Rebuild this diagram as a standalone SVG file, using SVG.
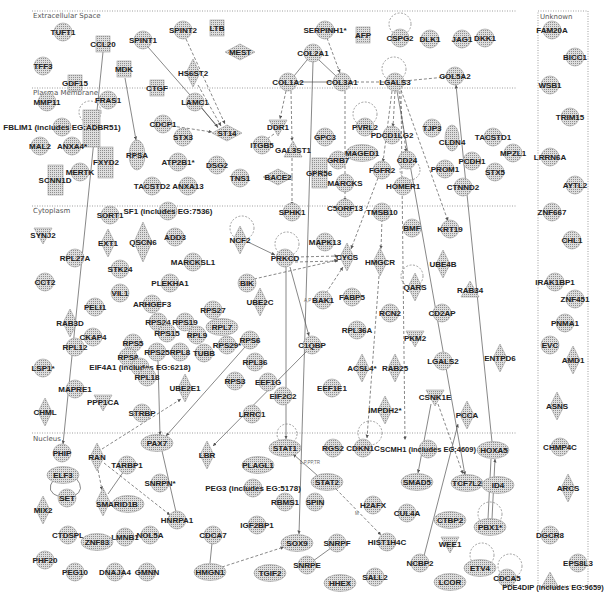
<svg xmlns="http://www.w3.org/2000/svg" xmlns:xlink="http://www.w3.org/1999/xlink" width="608" height="592" viewBox="0 0 608 592">
<style>
.n{fill:url(#st);stroke:#9a9a9a;stroke-width:0.6}
.l{font-family:"Liberation Sans",Arial,sans-serif;font-weight:bold;font-size:8px;fill:#222;text-anchor:middle}
.s{font-size:7.5px}
.e{stroke:#555;stroke-width:0.7;fill:none}
.d{stroke:#555;stroke-width:0.7;fill:none;stroke-dasharray:3 2}
.lp{stroke:#666;stroke-width:0.6;fill:none;stroke-dasharray:2 1.5}
.cm{stroke:#777;stroke-width:0.7;fill:none;stroke-dasharray:1 1.5}
.ct{font-family:"DejaVu Sans",sans-serif;font-size:7px;fill:#555}
.el{font-family:"Liberation Sans",sans-serif;font-size:4.5px;fill:#666}
</style>
<defs>
<pattern id="st" width="2" height="2" patternUnits="userSpaceOnUse"><rect width="2" height="2" fill="#dedede"/><rect width="1" height="1" fill="#8e8e8e"/></pattern>
<marker id="a" viewBox="0 0 6 6" refX="6" refY="3" markerWidth="5" markerHeight="5" orient="auto-start-reverse"><path d="M0,0L6,3L0,6Z" fill="#555"/></marker>
<circle id="C" r="9" class="n"/>
<ellipse id="E" rx="16" ry="8.5" class="n"/>
<path id="D" d="M0,-14L7,0L0,14L-7,0Z" class="n"/>
<path id="H" d="M-15,0L0,-8L15,0L0,8Z" class="n"/>
<rect id="S" x="-7" y="-8" width="14" height="16" class="n"/>
<path id="V" d="M-9,-7H9L0,9Z" class="n"/>
<path id="T" d="M0,-9L9,7H-9Z" class="n"/>
</defs>
<rect width="608" height="592" fill="#fff"/>
<g id="compartments">
<line class="cm" x1="32" y1="11" x2="516" y2="11"/>
<line class="cm" x1="32" y1="88" x2="516" y2="88"/>
<line class="cm" x1="32" y1="206" x2="516" y2="206"/>
<line class="cm" x1="32" y1="433" x2="516" y2="433"/>
<rect class="cm" x="538" y="11" width="50" height="575"/>
<text class="ct" x="33" y="18">Extracellular Space</text>
<text class="ct" x="33" y="95">Plasma Membrane</text>
<text class="ct" x="33" y="213">Cytoplasm</text>
<text class="ct" x="33" y="441">Nucleus</text>
<text class="ct" x="540" y="19">Unknown</text>
</g>
<g id="connectors">
<line class="e" x1="103" y1="52" x2="63" y2="444" marker-end="url(#a)"/>
<line class="e" x1="125" y1="78" x2="136" y2="140" marker-end="url(#a)"/>
<line class="e" x1="148" y1="47" x2="218" y2="127" marker-end="url(#a)"/>
<line class="d" x1="186" y1="39" x2="225" y2="124" marker-end="url(#a)"/>
<line class="d" x1="198" y1="85" x2="221" y2="126" marker-end="url(#a)"/>
<line class="e" x1="202" y1="108" x2="218" y2="128"/>
<line class="d" x1="172" y1="126" x2="212" y2="132" marker-end="url(#a)"/>
<line class="e" x1="307" y1="60" x2="294" y2="76"/>
<line class="e" x1="319" y1="60" x2="336" y2="76"/>
<line class="e" x1="297" y1="82" x2="333" y2="82"/>
<line class="d" x1="351" y1="82" x2="386" y2="82"/>
<line class="d" x1="404" y1="81" x2="446" y2="77" marker-end="url(#a)"/>
<line class="d" x1="327" y1="38" x2="340" y2="73" marker-end="url(#a)"/>
<line class="e" x1="313" y1="62" x2="299" y2="534" marker-end="url(#a)"/>
<line class="d" x1="286" y1="91" x2="280" y2="119" marker-end="url(#a)"/>
<line class="d" x1="274" y1="134" x2="267" y2="139"/>
<line class="d" x1="291" y1="91" x2="292" y2="141" marker-end="url(#a)"/>
<line class="d" x1="292" y1="158" x2="292" y2="205" marker-end="url(#a)"/>
<line class="d" x1="345" y1="91" x2="345" y2="201" marker-end="url(#a)"/>
<line class="d" x1="392" y1="91" x2="383" y2="162" marker-end="url(#a)"/>
<line class="d" x1="395" y1="91" x2="393" y2="127" marker-end="url(#a)"/>
<line class="d" x1="399" y1="91" x2="406" y2="152" marker-end="url(#a)"/>
<line class="d" x1="401" y1="90" x2="448" y2="221" marker-end="url(#a)"/>
<line class="e" x1="397" y1="91" x2="465" y2="475" marker-end="url(#a)"/>
<line class="d" x1="401" y1="91" x2="405" y2="440" marker-end="url(#a)"/>
<line class="e" x1="456" y1="85" x2="492" y2="442" marker-start="url(#a)"/>
<line class="d" x1="378" y1="178" x2="351" y2="249" marker-end="url(#a)"/>
<line class="e" x1="248" y1="242" x2="275" y2="255" marker-end="url(#a)"/>
<line class="d" x1="296" y1="257" x2="338" y2="256" marker-end="url(#a)"/>
<line class="d" x1="295" y1="262" x2="338" y2="261" marker-end="url(#a)"/>
<line class="d" x1="254" y1="279" x2="338" y2="260" marker-end="url(#a)"/>
<line class="d" x1="382" y1="219" x2="381" y2="249" marker-end="url(#a)"/>
<line class="d" x1="379" y1="276" x2="367" y2="438" marker-end="url(#a)"/>
<line class="d" x1="326" y1="293" x2="343" y2="267" marker-end="url(#a)"/>
<line class="e" x1="286" y1="267" x2="286" y2="439" marker-end="url(#a)"/>
<line class="e" x1="290" y1="267" x2="309" y2="336" marker-end="url(#a)"/>
<line class="e" x1="306" y1="352" x2="213" y2="446" marker-end="url(#a)"/>
<line class="e" x1="245" y1="347" x2="166" y2="436" marker-end="url(#a)"/>
<line class="e" x1="158" y1="361" x2="160" y2="435" marker-end="url(#a)"/>
<line class="d" x1="102" y1="449" x2="181" y2="399" marker-end="url(#a)"/>
<line class="d" x1="98" y1="470" x2="102" y2="490" marker-end="url(#a)"/>
<line class="d" x1="104" y1="463" x2="170" y2="515" marker-end="url(#a)"/>
<line class="e" x1="162" y1="451" x2="176" y2="512"/>
<line class="e" x1="124" y1="471" x2="108" y2="494"/>
<path class="e" d="M54,479 Q44,492 60,497"/>
<path class="e" d="M76,478 Q86,490 74,496"/>
<line class="e" x1="318" y1="476" x2="293" y2="454" marker-end="url(#a)"/>
<line class="d" x1="336" y1="489" x2="381" y2="535" marker-end="url(#a)"/>
<line class="d" x1="222" y1="567" x2="284" y2="547" marker-end="url(#a)"/>
<line class="e" x1="212" y1="543" x2="210" y2="563"/>
<line class="e" x1="313" y1="561" x2="331" y2="548"/>
<line class="e" x1="431" y1="404" x2="418" y2="473" marker-end="url(#a)"/>
<line class="d" x1="438" y1="404" x2="463" y2="474" marker-end="url(#a)"/>
<line class="e" x1="488" y1="519" x2="491" y2="459"/>
<line class="e" x1="492" y1="519" x2="495" y2="459" marker-end="url(#a)"/>
<line class="e" x1="424" y1="556" x2="458" y2="424" marker-end="url(#a)"/>
<circle class="lp" cx="90" cy="112" r="11"/>
<circle class="lp" cx="400" cy="24" r="11"/>
<circle class="lp" cx="394" cy="69" r="12"/>
<circle class="lp" cx="365" cy="114" r="12"/>
<circle class="lp" cx="410" cy="170" r="10"/>
<circle class="lp" cx="242" cy="228" r="12"/>
<circle class="lp" cx="287" cy="244" r="12"/>
<circle class="lp" cx="412" cy="276" r="11"/>
<circle class="lp" cx="287" cy="434" r="10"/>
<circle class="lp" cx="370" cy="433" r="12"/>
<circle class="lp" cx="490" cy="514" r="12"/>
<circle class="lp" cx="482" cy="555" r="12"/>
<circle class="lp" cx="510" cy="566" r="12"/>
<text class="el" x="304" y="302">A,P</text>
<text class="el" x="300" y="464">L,P,PP,TR</text>
<text class="el" x="355" y="515">M</text>
</g>
<g id="nodes">
<g id="n-TUFT1"><use href="#C" x="63" y="32"/><text class="l" x="63" y="35">TUFT1</text></g>
<g id="n-CCL20"><use href="#S" x="103" y="44"/><text class="l" x="103" y="47">CCL20</text></g>
<g id="n-SPINT1"><use href="#C" x="143" y="40"/><text class="l" x="143" y="43">SPINT1</text></g>
<g id="n-SPINT2"><use href="#C" x="183" y="30"/><text class="l" x="183" y="33">SPINT2</text></g>
<g id="n-LTB"><use href="#S" x="217" y="28"/><text class="l" x="217" y="31">LTB</text></g>
<g id="n-MEST"><use href="#H" x="240" y="52"/><text class="l" x="240" y="55">MEST</text></g>
<g id="n-SERPINH1"><use href="#C" x="325" y="30"/><text class="l" x="325" y="33">SERPINH1*</text></g>
<g id="n-AFP"><use href="#S" x="363" y="35"/><text class="l" x="363" y="38">AFP</text></g>
<g id="n-COL2A1"><use href="#C" x="313" y="53"/><text class="l" x="313" y="56">COL2A1</text></g>
<g id="n-CSPG2"><use href="#C" x="400" y="38"/><text class="l" x="400" y="41">CSPG2</text></g>
<g id="n-DLK1"><use href="#C" x="430" y="39"/><text class="l" x="430" y="42">DLK1</text></g>
<g id="n-JAG1"><use href="#C" x="462" y="39"/><text class="l" x="462" y="42">JAG1</text></g>
<g id="n-DKK1"><use href="#C" x="485" y="38"/><text class="l" x="485" y="41">DKK1</text></g>
<g id="n-TFF3"><use href="#C" x="43" y="66"/><text class="l" x="43" y="69">TFF3</text></g>
<g id="n-MDK"><use href="#S" x="124" y="69"/><text class="l" x="124" y="72">MDK</text></g>
<g id="n-HS6ST2"><use href="#D" x="193" y="73"/><text class="l" x="193" y="76">HS6ST2</text></g>
<g id="n-GDF15"><use href="#S" x="75" y="83"/><text class="l" x="75" y="86">GDF15</text></g>
<g id="n-COL1A2"><use href="#C" x="288" y="82"/><text class="l" x="288" y="85">COL1A2</text></g>
<g id="n-COL3A1"><use href="#C" x="342" y="82"/><text class="l" x="342" y="85">COL3A1</text></g>
<g id="n-LGALS3"><use href="#C" x="395" y="82"/><text class="l" x="395" y="85">LGALS3</text></g>
<g id="n-COL5A2"><use href="#C" x="455" y="76"/><text class="l" x="455" y="79">COL5A2</text></g>
<g id="n-CTGF"><use href="#S" x="157" y="88"/><text class="l" x="157" y="91">CTGF</text></g>
<g id="n-MMP11"><use href="#C" x="47" y="102"/><text class="l" x="47" y="105">MMP11</text></g>
<g id="n-FRAS1"><use href="#C" x="108" y="100"/><text class="l" x="108" y="103">FRAS1</text></g>
<g id="n-LAMC1"><use href="#C" x="195" y="102"/><text class="l" x="195" y="105">LAMC1</text></g>
<g id="n-rect1"><rect class="n" x="83" y="110" width="17" height="37"/></g>
<g id="n-FBLIM1"><use href="#C" x="62" y="127"/><text class="l" x="62" y="130">FBLIM1 (includes EG:ADBR51)</text></g>
<g id="n-CDCP1"><use href="#C" x="163" y="124"/><text class="l" x="163" y="127">CDCP1</text></g>
<g id="n-STX3"><use href="#C" x="183" y="137"/><text class="l" x="183" y="140">STX3</text></g>
<g id="n-ST14"><use href="#H" x="227" y="133"/><text class="l" x="227" y="136">ST14</text></g>
<g id="n-DDR1"><use href="#V" x="278" y="127"/><text class="l" x="278" y="130">DDR1</text></g>
<g id="n-GPC3"><use href="#C" x="325" y="137"/><text class="l" x="325" y="140">GPC3</text></g>
<g id="n-PVRL2"><use href="#C" x="365" y="127"/><text class="l" x="365" y="130">PVRL2</text></g>
<g id="n-PDCD1LG2"><use href="#C" x="392" y="135"/><text class="l" x="392" y="138">PDCD1LG2</text></g>
<g id="n-TJP3"><use href="#C" x="432" y="128"/><text class="l" x="432" y="131">TJP3</text></g>
<g id="n-CLDN4"><ellipse class="n" cx="452" cy="138" rx="7" ry="13"/><text class="l" x="452" y="145">CLDN4</text></g>
<g id="n-TACSTD1"><use href="#C" x="493" y="137"/><text class="l" x="493" y="140">TACSTD1</text></g>
<g id="n-MAL2"><use href="#C" x="40" y="146"/><text class="l" x="40" y="149">MAL2</text></g>
<g id="n-ANXA4"><use href="#C" x="72" y="146"/><text class="l" x="72" y="149">ANXA4*</text></g>
<g id="n-ITGB5"><use href="#C" x="262" y="145"/><text class="l" x="262" y="148">ITGB5</text></g>
<g id="n-GAL3ST1"><use href="#T" x="293" y="150"/><text class="l" x="293" y="153">GAL3ST1</text></g>
<g id="n-MAGED1"><use href="#E" x="362" y="153"/><text class="l" x="362" y="156">MAGED1</text></g>
<g id="n-MPZL1"><use href="#C" x="513" y="153"/><text class="l" x="513" y="156">MPZL1</text></g>
<g id="n-RPSA"><ellipse class="n" cx="137" cy="155" rx="8" ry="15"/><text class="l" x="137" y="158">RPSA</text></g>
<g id="n-FXYD2"><rect class="n" x="98" y="147" width="15" height="31"/><text class="l" x="106" y="165">FXYD2</text></g>
<g id="n-ATP2B1"><use href="#C" x="178" y="162"/><text class="l" x="178" y="165">ATP2B1*</text></g>
<g id="n-GRB7"><use href="#C" x="338" y="160"/><text class="l" x="338" y="163">GRB7</text></g>
<g id="n-PCDH1"><use href="#C" x="472" y="161"/><text class="l" x="472" y="164">PCDH1</text></g>
<g id="n-CD24"><use href="#C" x="407" y="160"/><text class="l" x="407" y="163">CD24</text></g>
<g id="n-DSG2"><use href="#C" x="217" y="165"/><text class="l" x="217" y="168">DSG2</text></g>
<g id="n-PROM1"><use href="#C" x="445" y="169"/><text class="l" x="445" y="172">PROM1</text></g>
<g id="n-FGFR2"><use href="#C" x="382" y="170"/><text class="l" x="382" y="173">FGFR2</text></g>
<g id="n-MERTK"><use href="#C" x="80" y="172"/><text class="l" x="80" y="175">MERTK</text></g>
<g id="n-GPR56"><rect class="n" x="312" y="158" width="15" height="30"/><text class="l" x="319" y="176">GPR56</text></g>
<g id="n-STX5"><use href="#C" x="495" y="172"/><text class="l" x="495" y="175">STX5</text></g>
<g id="n-BACE2"><use href="#H" x="278" y="177"/><text class="l" x="278" y="180">BACE2</text></g>
<g id="n-TNS1"><use href="#C" x="240" y="178"/><text class="l" x="240" y="181">TNS1</text></g>
<g id="n-SCNN1D"><rect class="n" x="48" y="165" width="15" height="30"/><text class="l" x="55" y="183">SCNN1D</text></g>
<g id="n-MARCKS"><use href="#C" x="345" y="183"/><text class="l" x="345" y="186">MARCKS</text></g>
<g id="n-HOMER1"><use href="#C" x="403" y="186"/><text class="l" x="403" y="189">HOMER1</text></g>
<g id="n-CTNND2"><use href="#C" x="463" y="187"/><text class="l" x="463" y="190">CTNND2</text></g>
<g id="n-TACSTD2"><use href="#C" x="152" y="186"/><text class="l" x="152" y="189">TACSTD2</text></g>
<g id="n-ANXA13"><use href="#C" x="188" y="186"/><text class="l" x="188" y="189">ANXA13</text></g>
<g id="n-SORT1"><use href="#C" x="110" y="215"/><text class="l" x="110" y="218">SORT1</text></g>
<g id="n-SF1"><use href="#C" x="168" y="211"/><text class="l" x="168" y="214">SF1 (includes EG:7536)</text></g>
<g id="n-SPHK1"><use href="#C" x="292" y="212"/><text class="l" x="292" y="215">SPHK1</text></g>
<g id="n-C5ORF13"><use href="#C" x="345" y="208"/><text class="l" x="345" y="211">C5ORF13</text></g>
<g id="n-TMSB10"><use href="#C" x="382" y="212"/><text class="l" x="382" y="215">TMSB10</text></g>
<g id="n-BMF"><use href="#C" x="412" y="228"/><text class="l" x="412" y="231">BMF</text></g>
<g id="n-KRT19"><use href="#C" x="450" y="229"/><text class="l" x="450" y="232">KRT19</text></g>
<g id="n-SYNJ2"><use href="#V" x="43" y="235"/><text class="l" x="43" y="238">SYNJ2</text></g>
<g id="n-ADD3"><use href="#C" x="175" y="237"/><text class="l" x="175" y="240">ADD3</text></g>
<g id="n-NCF2"><use href="#D" x="240" y="240"/><text class="l" x="240" y="243">NCF2</text></g>
<g id="n-MAPK13"><use href="#C" x="325" y="242"/><text class="l" x="325" y="245">MAPK13</text></g>
<g id="n-EXT1"><use href="#D" x="108" y="243"/><text class="l" x="108" y="246">EXT1</text></g>
<g id="n-QSCN6"><path class="n" d="M143,222L152,242L143,262L134,242Z"/><text class="l" x="143" y="245">QSCN6</text></g>
<g id="n-PRKCD"><use href="#C" x="285" y="258"/><text class="l" x="285" y="261">PRKCD</text></g>
<g id="n-CYCS"><use href="#D" x="347" y="257"/><text class="l" x="347" y="260">CYCS</text></g>
<g id="n-RPL27A"><use href="#C" x="75" y="258"/><text class="l" x="75" y="261">RPL27A</text></g>
<g id="n-MARCKSL1"><use href="#C" x="193" y="262"/><text class="l" x="193" y="265">MARCKSL1</text></g>
<g id="n-HMGCR"><use href="#D" x="380" y="262"/><text class="l" x="380" y="265">HMGCR</text></g>
<g id="n-UBE4B"><use href="#D" x="443" y="264"/><text class="l" x="443" y="267">UBE4B</text></g>
<g id="n-STK24"><use href="#C" x="120" y="269"/><text class="l" x="120" y="272">STK24</text></g>
<g id="n-CCT2"><use href="#C" x="45" y="282"/><text class="l" x="45" y="285">CCT2</text></g>
<g id="n-PLEKHA1"><use href="#C" x="170" y="283"/><text class="l" x="170" y="286">PLEKHA1</text></g>
<g id="n-BIK"><use href="#C" x="247" y="283"/><text class="l" x="247" y="286">BIK</text></g>
<g id="n-QARS"><use href="#D" x="415" y="287"/><text class="l" x="415" y="290">QARS</text></g>
<g id="n-RAB34"><use href="#T" x="470" y="290"/><text class="l" x="470" y="293">RAB34</text></g>
<g id="n-VIL1"><use href="#C" x="120" y="293"/><text class="l" x="120" y="296">VIL1</text></g>
<g id="n-FABP5"><use href="#C" x="352" y="297"/><text class="l" x="352" y="300">FABP5</text></g>
<g id="n-BAK1"><use href="#C" x="323" y="300"/><text class="l" x="323" y="303">BAK1</text></g>
<g id="n-UBE2C"><use href="#D" x="260" y="302"/><text class="l" x="260" y="305">UBE2C</text></g>
<g id="n-ARHGEF3"><use href="#C" x="152" y="304"/><text class="l" x="152" y="307">ARHGEF3</text></g>
<g id="n-PELI1"><use href="#C" x="95" y="307"/><text class="l" x="95" y="310">PELI1</text></g>
<g id="n-RPS27"><use href="#C" x="213" y="310"/><text class="l" x="213" y="313">RPS27</text></g>
<g id="n-RCN2"><use href="#C" x="390" y="313"/><text class="l" x="390" y="316">RCN2</text></g>
<g id="n-CD2AP"><use href="#C" x="442" y="313"/><text class="l" x="442" y="316">CD2AP</text></g>
<g id="n-RAB3D"><use href="#D" x="70" y="323"/><text class="l" x="70" y="326">RAB3D</text></g>
<g id="n-RPS24"><use href="#C" x="158" y="322"/><text class="l" x="158" y="325">RPS24</text></g>
<g id="n-RPS19"><use href="#C" x="185" y="322"/><text class="l" x="185" y="325">RPS19</text></g>
<g id="n-RPL7"><use href="#E" x="222" y="327"/><text class="l" x="222" y="330">RPL7</text></g>
<g id="n-RPL36A"><use href="#C" x="357" y="330"/><text class="l" x="357" y="333">RPL36A</text></g>
<g id="n-RPS15"><use href="#C" x="167" y="333"/><text class="l" x="167" y="336">RPS15</text></g>
<g id="n-RPL9"><use href="#C" x="197" y="335"/><text class="l" x="197" y="338">RPL9</text></g>
<g id="n-CKAP4"><use href="#C" x="93" y="337"/><text class="l" x="93" y="340">CKAP4</text></g>
<g id="n-PKM2"><use href="#V" x="415" y="338"/><text class="l" x="415" y="341">PKM2</text></g>
<g id="n-RPS6"><use href="#C" x="250" y="340"/><text class="l" x="250" y="343">RPS6</text></g>
<g id="n-RPS5"><use href="#C" x="133" y="343"/><text class="l" x="133" y="346">RPS5</text></g>
<g id="n-RPS29"><use href="#C" x="227" y="345"/><text class="l" x="227" y="348">RPS29*</text></g>
<g id="n-C1QBP"><use href="#C" x="312" y="345"/><text class="l" x="312" y="348">C1QBP</text></g>
<g id="n-RPL12"><use href="#C" x="75" y="347"/><text class="l" x="75" y="350">RPL12</text></g>
<g id="n-RPS25"><use href="#C" x="157" y="352"/><text class="l" x="157" y="355">RPS25</text></g>
<g id="n-RPL8"><use href="#C" x="180" y="352"/><text class="l" x="180" y="355">RPL8</text></g>
<g id="n-TUBB"><use href="#C" x="204" y="353"/><text class="l" x="204" y="356">TUBB</text></g>
<g id="n-RPS8"><use href="#C" x="128" y="357"/><text class="l" x="128" y="360">RPS8</text></g>
<g id="n-LGALS2"><use href="#C" x="443" y="361"/><text class="l" x="443" y="364">LGALS2</text></g>
<g id="n-RPL36"><use href="#C" x="255" y="362"/><text class="l" x="255" y="365">RPL36</text></g>
<g id="n-ENTPD6"><use href="#D" x="500" y="358"/><text class="l" x="500" y="361">ENTPD6</text></g>
<g id="n-LSP1"><use href="#C" x="43" y="368"/><text class="l" x="43" y="371">LSP1*</text></g>
<g id="n-RPS17"><use href="#C" x="140" y="367"/><text class="l" x="140" y="370">EIF4A1 (includes EG:6218)</text></g>
<g id="n-ACSL4"><use href="#D" x="362" y="368"/><text class="l" x="362" y="371">ACSL4*</text></g>
<g id="n-RAB25"><use href="#D" x="395" y="368"/><text class="l" x="395" y="371">RAB25</text></g>
<g id="n-RPL18"><use href="#C" x="147" y="377"/><text class="l" x="147" y="380">RPL18</text></g>
<g id="n-RPS3"><use href="#C" x="235" y="381"/><text class="l" x="235" y="384">RPS3</text></g>
<g id="n-EEF1G"><use href="#C" x="268" y="382"/><text class="l" x="268" y="385">EEF1G</text></g>
<g id="n-UBE2E1"><use href="#D" x="185" y="388"/><text class="l" x="185" y="391">UBE2E1</text></g>
<g id="n-MAPRE1"><use href="#C" x="75" y="389"/><text class="l" x="75" y="392">MAPRE1</text></g>
<g id="n-EEF1E1"><use href="#C" x="332" y="388"/><text class="l" x="332" y="391">EEF1E1</text></g>
<g id="n-EIF2C2"><use href="#C" x="283" y="396"/><text class="l" x="283" y="399">EIF2C2</text></g>
<g id="n-CSNK1E"><use href="#V" x="435" y="397"/><text class="l" x="435" y="400">CSNK1E</text></g>
<g id="n-PPP1CA"><use href="#V" x="103" y="402"/><text class="l" x="103" y="405">PPP1CA</text></g>
<g id="n-IMPDH2"><use href="#D" x="385" y="410"/><text class="l" x="385" y="413">IMPDH2*</text></g>
<g id="n-CHML"><use href="#D" x="45" y="412"/><text class="l" x="45" y="415">CHML</text></g>
<g id="n-STRBP"><use href="#C" x="142" y="413"/><text class="l" x="142" y="416">STRBP</text></g>
<g id="n-LRRC1"><use href="#C" x="252" y="414"/><text class="l" x="252" y="417">LRRC1</text></g>
<g id="n-PCCA"><use href="#D" x="467" y="415"/><text class="l" x="467" y="418">PCCA</text></g>
<g id="n-PAX7"><use href="#E" x="157" y="443"/><text class="l" x="157" y="446">PAX7</text></g>
<g id="n-STAT1"><use href="#E" x="285" y="448"/><text class="l" x="285" y="451">STAT1</text></g>
<g id="n-RGS2"><use href="#C" x="333" y="448"/><text class="l" x="333" y="451">RGS2</text></g>
<g id="n-CDKN1C"><use href="#C" x="363" y="448"/><text class="l" x="363" y="451">CDKN1C</text></g>
<g id="n-NRIP"><use href="#C" x="428" y="449"/><text class="l s" x="428" y="452">SCMH1 (includes EG:4609)</text></g>
<g id="n-HOXA5"><use href="#E" x="493" y="450"/><text class="l" x="494" y="453">HOXA5</text></g>
<g id="n-PHIP"><use href="#C" x="62" y="453"/><text class="l" x="62" y="456">PHIP</text></g>
<g id="n-LBR"><use href="#D" x="207" y="455"/><text class="l" x="207" y="458">LBR</text></g>
<g id="n-RAN"><use href="#D" x="97" y="457"/><text class="l" x="97" y="460">RAN</text></g>
<g id="n-PLAGL1"><use href="#E" x="258" y="465"/><text class="l" x="258" y="468">PLAGL1</text></g>
<g id="n-TARBP1"><use href="#C" x="127" y="465"/><text class="l" x="127" y="468">TARBP1</text></g>
<g id="n-ELF3"><use href="#E" x="63" y="475"/><text class="l" x="63" y="478">ELF3</text></g>
<g id="n-SMAD5"><use href="#E" x="417" y="482"/><text class="l" x="417" y="485">SMAD5</text></g>
<g id="n-TCF7L2"><use href="#E" x="467" y="483"/><text class="l" x="467" y="486">TCF7L2</text></g>
<g id="n-STAT2"><use href="#E" x="327" y="482"/><text class="l" x="327" y="485">STAT2</text></g>
<g id="n-SNRPN"><use href="#C" x="160" y="483"/><text class="l" x="160" y="486">SNRPN*</text></g>
<g id="n-ID4"><use href="#E" x="498" y="485"/><text class="l" x="498" y="488">ID4</text></g>
<g id="n-PEG3"><use href="#C" x="253" y="488"/><text class="l" x="253" y="491">PEG3 (includes EG:5178)</text></g>
<g id="n-SET"><use href="#C" x="67" y="498"/><text class="l" x="67" y="501">SET</text></g>
<g id="n-SS18"><use href="#D" x="103" y="502"/></g>
<g id="n-ARID1B"><use href="#E" x="128" y="504"/><text class="l" x="117" y="507">SMARID1B</text></g>
<g id="n-RBMS1"><use href="#C" x="285" y="502"/><text class="l" x="285" y="505">RBMS1</text></g>
<g id="n-SPIN"><use href="#C" x="315" y="502"/><text class="l" x="315" y="505">SPIN</text></g>
<g id="n-H2AFX"><use href="#C" x="373" y="505"/><text class="l" x="373" y="508">H2AFX</text></g>
<g id="n-MIX2"><use href="#D" x="43" y="510"/><text class="l" x="43" y="513">MIX2</text></g>
<g id="n-CUL4A"><use href="#C" x="407" y="513"/><text class="l" x="407" y="516">CUL4A</text></g>
<g id="n-HNRPA1"><use href="#C" x="177" y="520"/><text class="l" x="177" y="523">HNRPA1</text></g>
<g id="n-CTBP2"><use href="#E" x="450" y="520"/><text class="l" x="450" y="523">CTBP2</text></g>
<g id="n-IGF2BP1"><use href="#C" x="257" y="525"/><text class="l" x="257" y="528">IGF2BP1</text></g>
<g id="n-PBX1"><use href="#E" x="490" y="527"/><text class="l" x="490" y="530">PBX1*</text></g>
<g id="n-CTDSPL"><use href="#C" x="68" y="535"/><text class="l" x="68" y="538">CTDSPL</text></g>
<g id="n-NOL5A"><use href="#C" x="150" y="535"/><text class="l" x="150" y="538">NOL5A</text></g>
<g id="n-LMNB1"><use href="#C" x="125" y="537"/><text class="l" x="125" y="540">LMNB1</text></g>
<g id="n-CDCA7"><use href="#C" x="213" y="535"/><text class="l" x="213" y="538">CDCA7</text></g>
<g id="n-ZNF83"><use href="#E" x="97" y="542"/><text class="l" x="97" y="545">ZNF83</text></g>
<g id="n-SOX9"><use href="#E" x="297" y="543"/><text class="l" x="297" y="546">SOX9</text></g>
<g id="n-SNRPF"><use href="#C" x="337" y="543"/><text class="l" x="337" y="546">SNRPF</text></g>
<g id="n-HIST1H4C"><use href="#C" x="387" y="542"/><text class="l" x="387" y="545">HIST1H4C</text></g>
<g id="n-WEE1"><use href="#V" x="450" y="544"/><text class="l" x="450" y="547">WEE1</text></g>
<g id="n-PHF20"><use href="#C" x="45" y="560"/><text class="l" x="45" y="563">PHF20</text></g>
<g id="n-SNRPE"><use href="#C" x="307" y="565"/><text class="l" x="307" y="568">SNRPE</text></g>
<g id="n-NCBP2"><use href="#C" x="420" y="563"/><text class="l" x="420" y="566">NCBP2</text></g>
<g id="n-ETV4"><use href="#E" x="480" y="568"/><text class="l" x="480" y="571">ETV4</text></g>
<g id="n-HMGN1"><use href="#E" x="210" y="572"/><text class="l" x="210" y="575">HMGN1</text></g>
<g id="n-TGIF2"><use href="#E" x="270" y="573"/><text class="l" x="270" y="576">TGIF2</text></g>
<g id="n-PEG10"><use href="#C" x="75" y="572"/><text class="l" x="75" y="575">PEG10</text></g>
<g id="n-DNAJA4"><use href="#C" x="115" y="572"/><text class="l" x="115" y="575">DNAJA4</text></g>
<g id="n-GMNN"><use href="#C" x="147" y="572"/><text class="l" x="147" y="575">GMNN</text></g>
<g id="n-SALL2"><use href="#C" x="375" y="577"/><text class="l" x="375" y="580">SALL2</text></g>
<g id="n-HHEX"><use href="#E" x="340" y="583"/><text class="l" x="340" y="586">HHEX</text></g>
<g id="n-LCOR"><use href="#E" x="450" y="582"/><text class="l" x="450" y="585">LCOR</text></g>
<g id="n-CDCA5"><use href="#C" x="507" y="578"/><text class="l" x="507" y="581">CDCA5</text></g>
<g id="n-FAM20A"><use href="#C" x="552" y="30"/><text class="l" x="552" y="33">FAM20A</text></g>
<g id="n-BICC1"><use href="#C" x="575" y="57"/><text class="l" x="575" y="60">BICC1</text></g>
<g id="n-WSB1"><use href="#C" x="550" y="85"/><text class="l" x="550" y="88">WSB1</text></g>
<g id="n-TRIM15"><use href="#C" x="570" y="117"/><text class="l" x="570" y="120">TRIM15</text></g>
<g id="n-LRRN6A"><use href="#C" x="550" y="157"/><text class="l" x="550" y="160">LRRN6A</text></g>
<g id="n-AYTL2"><use href="#C" x="575" y="185"/><text class="l" x="575" y="188">AYTL2</text></g>
<g id="n-ZNF667"><use href="#C" x="552" y="212"/><text class="l" x="552" y="215">ZNF667</text></g>
<g id="n-CHL1"><use href="#C" x="572" y="240"/><text class="l" x="572" y="243">CHL1</text></g>
<g id="n-IRAK1BP1"><use href="#C" x="555" y="282"/><text class="l" x="555" y="285">IRAK1BP1</text></g>
<g id="n-ZNF451"><use href="#C" x="575" y="299"/><text class="l" x="575" y="302">ZNF451</text></g>
<g id="n-PNMA1"><use href="#C" x="565" y="323"/><text class="l" x="565" y="326">PNMA1</text></g>
<g id="n-EVC"><use href="#C" x="550" y="345"/><text class="l" x="550" y="348">EVC</text></g>
<g id="n-AMD1"><use href="#D" x="573" y="360"/><text class="l" x="573" y="363">AMD1</text></g>
<g id="n-ASNS"><use href="#D" x="557" y="406"/><text class="l" x="557" y="409">ASNS</text></g>
<g id="n-CHMP4C"><use href="#C" x="560" y="447"/><text class="l" x="560" y="450">CHMP4C</text></g>
<g id="n-ARCS"><use href="#D" x="568" y="488"/><text class="l" x="568" y="491">ARCS</text></g>
<g id="n-DGCR8"><use href="#C" x="550" y="535"/><text class="l" x="550" y="538">DGCR8</text></g>
<g id="n-EPS8L3"><use href="#C" x="578" y="563"/><text class="l" x="578" y="566">EPS8L3</text></g>
<g id="n-PDE4DIP"><use href="#T" x="550" y="581"/><text class="l s" x="553" y="590">PDE4DIP (includes EG:9659)</text></g>
</g>
</svg>
